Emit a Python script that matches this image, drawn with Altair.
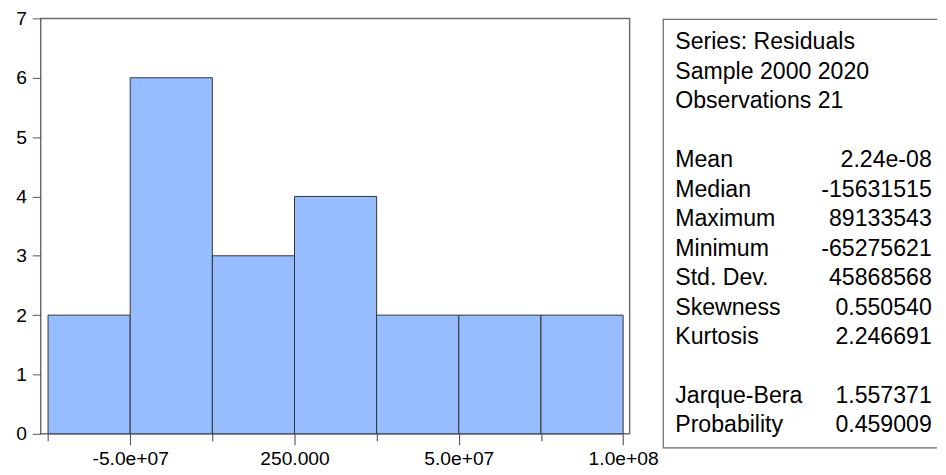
import altair as alt
import pandas as pd

# Histogram bins (residuals) and counts
bin_lo = [-75e6, -50e6, -25e6, 0, 25e6, 50e6, 75e6]
bin_hi = [-50e6, -25e6, 0, 25e6, 50e6, 75e6, 100e6]
counts = [2, 6, 3, 4, 2, 2, 2]

# X-axis ticks and labels
tick_values = [-75e6, -50e6, -25e6, 0, 25e6, 50e6, 75e6, 100e6]
tick_labels = ["", "-5.0e+07", "", "250.000", "", "5.0e+07", "", "1.0e+08"]

# Statistics panel
stat_labels = ["Series: Residuals", "Sample 2000 2020", "Observations 21", "",
               "Mean", "Median", "Maximum", "Minimum", "Std. Dev.",
               "Skewness", "Kurtosis", "", "Jarque-Bera", "Probability"]
stat_values = ["", "", "", "", "2.24e-08", "-15631515", "89133543", "-65275621",
               "45868568", "0.550540", "2.246691", "", "1.557371", "0.459009"]

FONT = "Liberation Sans"

hist_df = pd.DataFrame({"lo": bin_lo, "hi": bin_hi, "count": counts})

expr_parts = []
for v, lab in zip(tick_values, tick_labels):
    expr_parts.append(f"datum.value == {int(v)} ? '{lab}'")
label_expr = " : ".join(expr_parts) + " : ''"
major_test = " || ".join(f"datum.value == {int(v)}" for v, lab in zip(tick_values, tick_labels) if lab)

hist = alt.Chart(hist_df).mark_rect(
    fill="#95BDFF", stroke="#333333", strokeWidth=1
).encode(
    x=alt.X("lo:Q",
            scale=alt.Scale(domain=[-77.23e6, 101.99e6], nice=False, zero=False),
            axis=alt.Axis(values=tick_values, labelExpr=label_expr, title=None,
                          domain=False, grid=False,
                          tickSize={"condition": {"test": major_test, "value": 11}, "value": 7},
                          tickColor="#404040", tickWidth=1,
                          labelFont=FONT, labelFontSize=19.4, labelColor="#000000",
                          labelPadding=5, labelOverlap=False, labelFlush=False)),
    x2="hi:Q",
    y=alt.Y("count:Q",
            scale=alt.Scale(domain=[0, 7], nice=False),
            axis=alt.Axis(values=[0, 1, 2, 3, 4, 5, 6, 7], title=None, domain=False,
                          grid=False, tickSize=8.5, tickColor="#555555",
                          labelFont=FONT, labelFontSize=19.4, labelColor="#000000",
                          labelPadding=6)),
    y2=alt.datum(0),
).properties(
    width=594, height=419,
    view=alt.ViewBackground(stroke="#6c6c6c", strokeWidth=1.5),
)

stats_df = pd.DataFrame({"row": list(range(len(stat_labels))),
                         "label": stat_labels, "value": stat_values})
stats_df = stats_df[(stats_df["label"] != "")]

box = alt.Chart(pd.DataFrame({"b": [0]})).mark_rect(
    clip=True, fill="white", stroke="#6c6c6c", strokeWidth=1.5
).encode(
    x=alt.value(0.75), x2=alt.value(290), y=alt.value(0.75), y2=alt.value(433.25)
)

yscale = alt.Scale(domain=[-1.05, 13.553], reverse=True, nice=False, zero=False)

lab_text = alt.Chart(stats_df).mark_text(
    align="left", baseline="alphabetic", font=FONT, fontSize=23.3, color="#000000"
).encode(
    x=alt.value(13),
    y=alt.Y("row:Q", scale=yscale, axis=None),
    text="label:N",
)

val_text = alt.Chart(stats_df).mark_text(
    align="right", baseline="alphabetic", font=FONT, fontSize=23.3, color="#000000"
).encode(
    x=alt.value(271.7),
    y=alt.Y("row:Q", scale=yscale, axis=None),
    text="value:N",
)

panel = alt.layer(box, lab_text, val_text).properties(
    width=277, height=434,
    view=alt.ViewBackground(stroke="transparent"),
)

chart = alt.hconcat(hist, panel, spacing=33, bounds="flush").properties(
    padding={"left": 6, "top": -2.5, "right": 0, "bottom": 0},
    background="white",
)

chart.save("out.html", embed_options={"renderer": "svg", "actions": False})
